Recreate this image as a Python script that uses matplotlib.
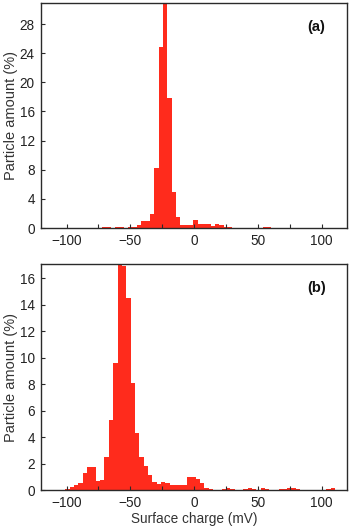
import matplotlib
matplotlib.use("Agg")
import matplotlib.pyplot as plt
from matplotlib.ticker import MultipleLocator

plt.rcParams['font.family'] = ['Liberation Sans', 'DejaVu Sans']

# ---- data ----
bin_width = 3.4

# Panel (a)
a_centers = [-70.2, -66.8, -60.0, -56.6, -49.8, -46.4, -43.0, -39.6, -36.2, -32.8,
             -29.4, -26.0, -22.6, -19.2, -15.8, -12.4, -9.0, -5.6, -2.2, 1.2,
             4.6, 8.0, 11.4, 14.8, 18.2, 21.6, 25.0, 28.4, 31.8, 55.6, 59.0]
a_values = [0.2, 0.2, 0.15, 0.2, 0.15, 0.1, 0.4, 0.9, 1.0, 1.9,
            8.2, 24.9, 33.0, 17.9, 4.9, 1.55, 0.4, 0.4, 0.45, 1.05,
            0.5, 0.55, 0.55, 0.25, 0.55, 0.45, 0.15, 0.1, 0.05, 0.2, 0.2]

# Panel (b)
b_centers = [-99.1, -95.7, -92.3, -88.9, -85.5, -82.1, -78.7, -75.3, -71.9, -68.5,
             -65.1, -61.7, -58.3, -54.9, -51.5, -48.1, -44.7, -41.3, -37.9, -34.5,
             -31.1, -27.7, -24.3, -20.9, -17.5, -14.1, -10.7, -7.3, -3.9, -0.5,
             2.9, 6.3, 9.7, 13.1, 23.3, 26.7, 30.1, 40.3, 43.7, 47.1,
             53.9, 57.3, 68.1, 71.5, 74.9, 78.3, 81.7, 105.5, 108.9]
b_values = [0.05, 0.2, 0.35, 0.5, 1.3, 1.7, 1.7, 0.7, 0.75, 2.5,
            5.3, 9.6, 18.0, 16.9, 14.5, 8.1, 4.3, 2.5, 1.8, 1.1,
            0.6, 0.45, 0.6, 0.55, 0.35, 0.4, 0.4, 0.4, 1.0, 1.0,
            0.85, 0.5, 0.15, 0.1, 0.1, 0.15, 0.1, 0.1, 0.15, 0.1,
            0.15, 0.1, 0.1, 0.1, 0.15, 0.15, 0.1, 0.05, 0.15]

x_ticks = [-100, -50, 0, 50, 100]
a_yticks = [0, 4, 8, 12, 16, 20, 24, 28]
b_yticks = [0, 2, 4, 6, 8, 10, 12, 14, 16]

ylabel = "Particle amount (%)"
xlabel = "Surface charge (mV)"
labels = ["(a)", "(b)"]

# ---- figure ----
W, H = 353, 528
fig = plt.figure(figsize=(W / 100, H / 100), dpi=100)

def px_axes(left, top, right, bottom):
    return fig.add_axes([left / W, 1 - bottom / H, (right - left) / W, (bottom - top) / H])

ax_a = px_axes(41, 3, 347, 228)
ax_b = px_axes(41, 264, 347, 490)

red = '#ff2b1c'
spine_col = '#2a2a2a'
text_col = '#222222'

for ax, cen, val, yt, ylim, lab in [
        (ax_a, a_centers, a_values, a_yticks, (0, 30.9), labels[0]),
        (ax_b, b_centers, b_values, b_yticks, (0, 17.06), labels[1])]:
    ax.bar(cen, val, width=bin_width, color=red, edgecolor='none', linewidth=0)
    ax.set_xlim(-120, 120)
    ax.set_ylim(*ylim)
    ax.set_xticks(x_ticks)
    ax.xaxis.set_minor_locator(MultipleLocator(25))
    ax.set_yticks(yt)
    ax.tick_params(which='both', direction='in', length=3, width=0.8,
                   color=spine_col, labelsize=9.8, labelcolor=text_col, pad=4.5)
    for s in ax.spines.values():
        s.set_color(spine_col)
        s.set_linewidth(1.0)
    ax.set_ylabel(ylabel, fontsize=10.5, color='#333333')
    ax.yaxis.set_label_coords(-0.075, 0.5)
    ax.text(0.90, 0.895, lab, transform=ax.transAxes, fontsize=10.5,
            fontweight='bold', ha='center', va='center', color='#111111')

ax_b.set_xlabel(xlabel, fontsize=9.8, color='#333333', labelpad=1)

fig.savefig("out.png", dpi=100)
